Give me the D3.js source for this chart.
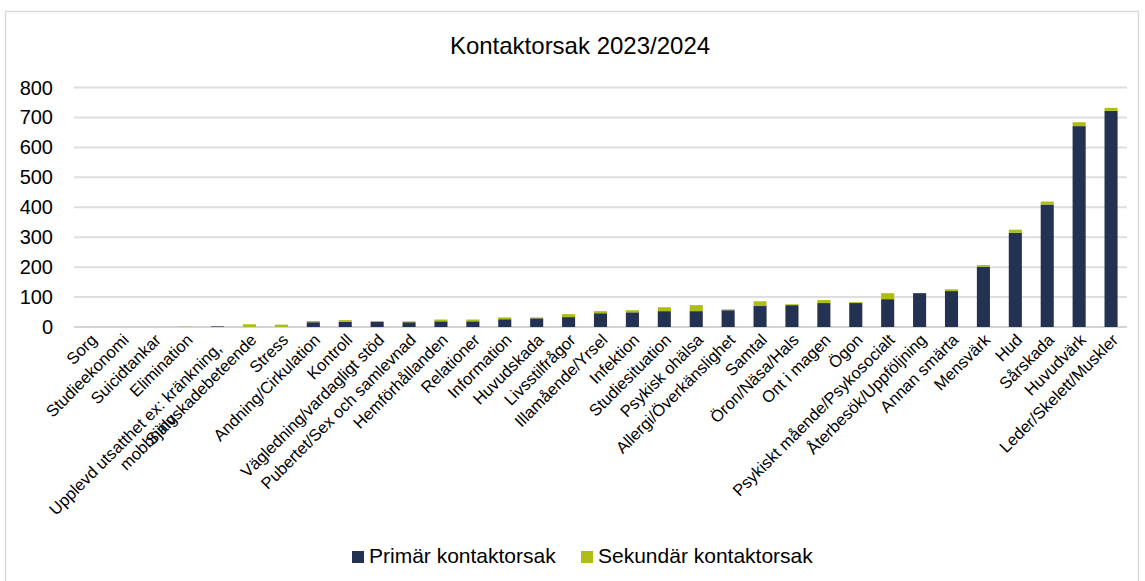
<!DOCTYPE html>
<html><head><meta charset="utf-8">
<script src="https://cdn.jsdelivr.net/npm/d3@7"></script>
<style>
html,body{margin:0;padding:0;background:#fff;}
svg{display:block;font-family:"Liberation Sans",Arial,sans-serif;}
</style></head>
<body>
<svg id="chart" width="1145" height="581"></svg>
<script>
const categories = ["Sorg","Studieekonomi","Suicidtankar","Elimination","Upplevd utsatthet ex: kränkning,\nmobbning","Självskadebeteende","Stress","Andning/Cirkulation","Kontroll","Vägledning/vardagligt stöd","Pubertet/Sex och samlevnad","Hemförhållanden","Relationer","Information","Huvudskada","Livsstilfrågor","Illamående/Yrsel","Infektion","Studiesituation","Psykisk ohälsa","Allergi/Överkänslighet","Samtal","Öron/Näsa/Hals","Ont i magen","Ögon","Psykiskt mående/Psykosocialt","Återbesök/Uppföljning","Annan smärta","Mensvärk","Hud","Sårskada","Huvudvärk","Leder/Skelett/Muskler"];
const primary   = [0,0,0,0,2,0,0,16,17,17,16,19,19,26,29,33,46,49,53,53,56,70,73,80,80,93,113,120,201,315,409,671,722];
const secondary = [0,0,0,1,0,9,8,4,6,3,3,6,6,6,3,10,7,7,13,20,3,16,3,10,3,20,0,6,6,10,10,13,10];
const yTicks = [0,100,200,300,400,500,600,700,800];
const seriesNames = ["Primär kontaktorsak","Sekundär kontaktorsak"];
const colors = ["#243251","#afbc14"];
const title = "Kontaktorsak 2023/2024";

const svg = d3.select("#chart");
// outer border
svg.append("rect").attr("x",5.5).attr("y",11.5).attr("width",1133).attr("height",600)
  .attr("fill","none").attr("stroke","#d9d9d9").attr("stroke-width",1.5);

const x = d3.scaleBand().domain(categories).range([74,1127]).paddingInner(0.59).paddingOuter(0.295);
const y = d3.scaleLinear().domain([0,800]).range([327,87.5]);

// gridlines
svg.append("g").selectAll("line").data(yTicks).join("line")
  .attr("x1",74).attr("x2",1127)
  .attr("y1",d=>y(d)).attr("y2",d=>y(d))
  .attr("stroke",d=>d===0?"#d4d4d4":"#dedede").attr("stroke-width",2);

// y labels
svg.append("g").selectAll("text").data(yTicks).join("text")
  .attr("x",53).attr("y",d=>y(d)+7)
  .attr("text-anchor","end").attr("font-size",20).attr("fill","#000")
  .text(d=>d);

// stacked bars
const stackData = categories.map((c,i)=>({cat:c, p:primary[i], s:secondary[i]}));
const stack = d3.stack().keys(["p","s"])(stackData);
svg.append("g").selectAll("g").data(stack).join("g")
  .attr("fill",(d,i)=>colors[i])
  .selectAll("rect").data(d=>d).join("rect")
  .attr("x",d=>x(d.data.cat)).attr("width",x.bandwidth())
  .attr("y",d=>y(d[1])).attr("height",d=>Math.max(0,y(d[0])-y(d[1])));

// x labels
const fs = 16.5;
const lab = svg.append("g").attr("font-size",fs).attr("fill","#000");
categories.forEach(c=>{
  const cx = x(c)+x.bandwidth()/2;
  const lines = c.split("\n");
  const g = lab.append("g").attr("transform",`translate(${cx+8},${341}) rotate(-45)`);
  if(lines.length===1){
    g.append("text").attr("text-anchor","end").text(c);
  } else {
    const t1 = g.append("text").attr("text-anchor","end").attr("x",-8).attr("y",4).text(lines[0]);
    const w = t1.node().getComputedTextLength();
    g.append("text").attr("text-anchor","middle").attr("x",-8-w/2).attr("y",4+18).text(lines[1]);
  }
});

// title
svg.append("text").attr("x",580).attr("y",54).attr("text-anchor","middle")
  .attr("font-size",24).attr("fill","#000").text(title);

// legend
const leg = svg.append("g");
const legX = [352,581];
seriesNames.forEach((n,i)=>{
  leg.append("rect").attr("x",legX[i]).attr("y",551).attr("width",12).attr("height",12).attr("fill",colors[i]);
  leg.append("text").attr("x",legX[i]+17).attr("y",563).attr("font-size",21).attr("fill","#000").text(n);
});
</script>
</body></html>
